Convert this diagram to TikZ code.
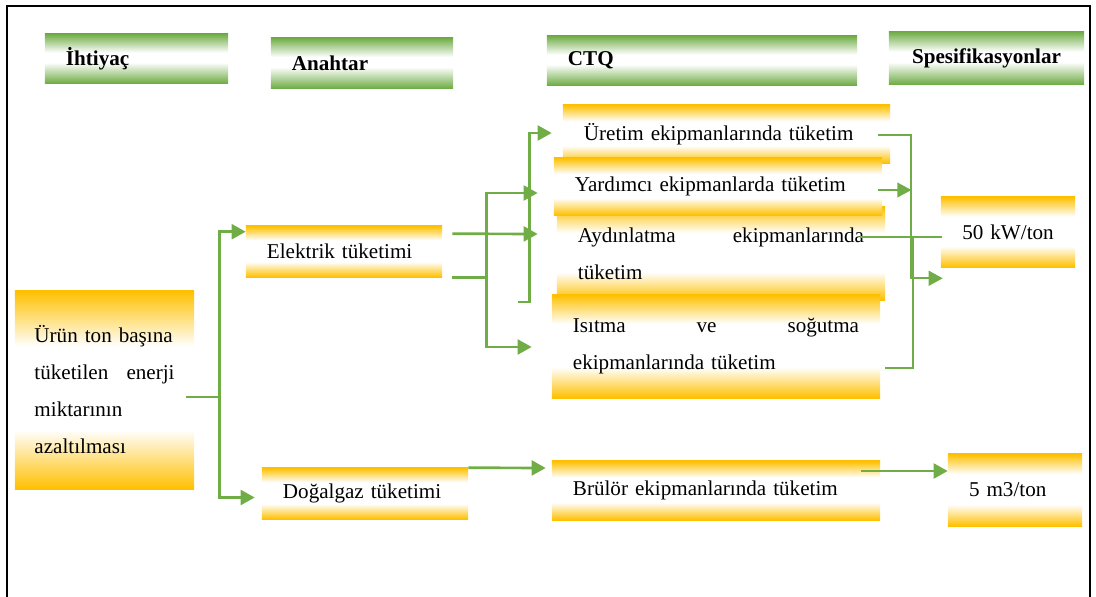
\documentclass[tikz,border=0pt]{standalone}
\usepackage{fontspec}
\setmainfont{Liberation Serif}
\usetikzlibrary{arrows.meta,calc}

\definecolor{ctqgreen}{HTML}{70AD47}
\definecolor{ctqorange}{HTML}{FFC000}
\pgfdeclareverticalshading{orangeband}{100bp}{color(0bp)=(ctqorange); color(25bp)=(ctqorange);
  color(40bp)=(white); color(61bp)=(white); color(75bp)=(ctqorange); color(100bp)=(ctqorange)}
\pgfdeclareverticalshading{greenband}{100bp}{color(0bp)=(ctqgreen); color(25bp)=(ctqgreen);
  color(46bp)=(white); color(56bp)=(white); color(75bp)=(ctqgreen); color(100bp)=(ctqgreen)}

\begin{document}
\begin{tikzpicture}[
  x=0.025cm, y=-0.025cm,
  font=\fontsize{15}{26.3}\selectfont,
  header/.style={shade, shading=greenband, inner xsep=0.525cm, inner ysep=0pt,
    align=left, font=\fontsize{15}{26.3}\selectfont\bfseries},
  band/.style={shade, shading=orangeband, inner xsep=0.525cm, inner ysep=0pt, align=left},
  arrow/.style={draw=ctqgreen, line width=1.9pt, -{Triangle[length=0.35cm, width=0.37cm]}},
  link/.style={draw=ctqgreen, line width=1.9pt},
  frame/.style={draw=black, line width=1.8pt}
]
\useasboundingbox (0,0) rectangle (1096,597);
\draw[frame] (7,597) -- (7,6) -- (1090,6) -- (1090,597);

% Headers
\node[header, text width=3.525cm, minimum height=1.225cm] (hNeed) at (136.5,58.5) {İhtiyaç};
\node[header, text width=3.5cm, minimum height=1.25cm] (hKey) at (362,63) {Anahtar};
\node[header, text width=6.7cm, minimum height=1.225cm] (hCtq) at (702,60.5) {CTQ};
\node[header, inner xsep=0.3cm, text width=4.275cm, align=center, minimum height=1.3cm]
  (hSpec) at (986.5,58) {Spesifikasyonlar};

% Need
\node[band, inner xsep=0.4875cm, text width=3.5cm, minimum height=4.95cm] (need) at (104.5,390)
  {Ürün ton başına\\tüketilen\hfill enerji\\miktarının\\azaltılması};

% Key
\node[band, text width=3.85cm, minimum height=1.275cm] (elec) at (344,251.5) {Elektrik tüketimi};
\node[band, text width=4.1cm, minimum height=1.275cm] (gas) at (365,493.5) {Doğalgaz tüketimi};

% CTQ
\node[band, text width=7.125cm, minimum height=1.45cm] (prod) at (726.5,134)
  {Üretim ekipmanlarında tüketim};
\node[band, text width=7.15cm, minimum height=2.325cm] (light) at (721,253.5)
  {Aydınlatma\hfill ekipmanlarında\\tüketim};
\node[band, text width=7.15cm, minimum height=1.425cm] (aux) at (718,186.5)
  {Yardımcı ekipmanlarda tüketim};
\node[band, text width=7.15cm, minimum height=2.575cm] (heat) at (716,346.5)
  {Isıtma\hfill ve\hfill soğutma\\ekipmanlarında tüketim};
\node[band, text width=7.15cm, minimum height=1.475cm] (burner) at (716,490.5)
  {Brülör ekipmanlarında tüketim};

% Specifications
\node[band, text width=2.3cm, align=center, minimum height=1.75cm] (kw) at (1008,232) {50 kW/ton};
\node[band, text width=2.3cm, minimum height=1.8cm] (gasSpec) at (1015,490) {5 m3/ton};

% Need -> key
\coordinate (needSplit) at ($(need.east)+(25,7)$);
\draw[link] ($(need.east)+(-8,7)$) -- (needSplit);
\draw[arrow] (needSplit) |- ($(elec.north west)+(0,6)$);
\draw[arrow] (needSplit) |- ($(gas.west)+(-7,4)$);

% Key -> CTQ
\draw[arrow] ($(elec.north east)+(10,8)$) -- ($(light.west)+(-19,-19.5)$);
\coordinate (elecSplit) at ($(elec.south east)+(44,0)$);
\draw[link] ($(elec.south east)+(10,0)$) -- (elecSplit);
\draw[arrow] (elecSplit) |- ($(aux.west)+(-16,6.5)$);
\draw[arrow] (elecSplit) |- ($(heat.west)+(-20,0.5)$);
\coordinate (prodStub) at ($(light.west)+(-39,48.5)$);
\draw[arrow] (prodStub) -- ++(12,0) |- ($(prod.west)+(-11,-1)$);
\draw[arrow] (gas.north east) -- ($(burner.west)+(-6,-22.5)$);

% CTQ -> specifications
\draw[arrow, line width=1.4pt] ($(prod.east)+(-12,1)$) -| ($(kw.south west)+(-30,11)$)
  -- ($(kw.south west)+(2,11)$);
\draw[arrow, line width=1.1pt] ($(aux.east)+(-4,3.5)$) -- ($(aux.east)+(29,3.5)$);
\draw[link, line width=1.4pt] ($(light.east)+(-25,-16.5)$) -- ($(kw.west)+(1,5)$);
\draw[link, line width=1.4pt] ($(heat.east)+(5,21.5)$) -| ($(kw.west)+(-28,5)$);
\draw[arrow] ($(burner.east)+(-19,-19.5)$) -- ($(gasSpec.west)+(0,-19)$);
\end{tikzpicture}
\end{document}
